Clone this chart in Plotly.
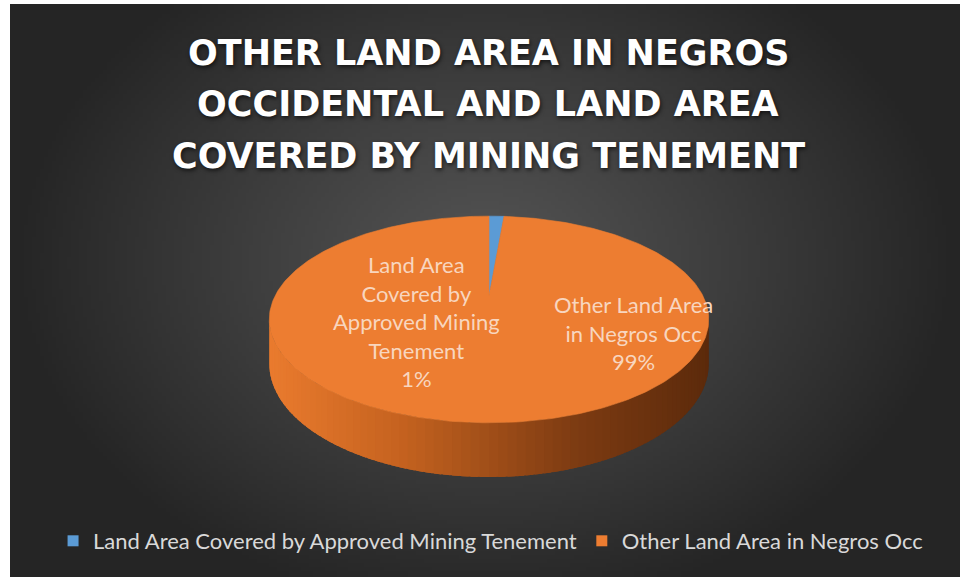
import base64
import struct
import zlib

import numpy as np
import plotly.graph_objects as go

# ---------------- data ----------------
categories = ["Land Area Covered by Approved Mining Tenement", "Other Land Area in Negros Occ"]
label_lines = ["Land Area<br>Covered by<br>Approved Mining<br>Tenement", "Other Land Area<br>in Negros Occ"]
values = [1.37, 98.63]
slice_colors = ["#5b9bd5", "#ed7d31"]
title_lines = ["OTHER LAND AREA IN NEGROS", "OCCIDENTAL AND LAND AREA", "COVERED BY MINING TENEMENT"]

# ---------------- canvas ----------------
W, H = 960, 577
BG_LEFT, BG_TOP = 10, 4


def png_uri(arr):
    h, w, _ = arr.shape
    raw = b"".join(b"\x00" + arr[r].tobytes() for r in range(h))

    def chunk(tag, data):
        c = struct.pack(">I", len(data)) + tag + data
        return c + struct.pack(">I", zlib.crc32(tag + data) & 0xFFFFFFFF)

    png = b"\x89PNG\r\n\x1a\n" + chunk(b"IHDR", struct.pack(">IIBBBBB", w, h, 8, 2, 0, 0, 0))
    png += chunk(b"IDAT", zlib.compress(raw, 9)) + chunk(b"IEND", b"")
    return "data:image/png;base64," + base64.b64encode(png).decode()


# radial gradient background
gw, gh = 240, 144
yy, xx = np.mgrid[0:gh, 0:gw]
dx = (xx / (gw - 1) - 0.5) / 0.5
dy = (yy / (gh - 1) - 0.45) / 0.62
d = np.clip(np.sqrt(dx ** 2 + dy ** 2), 0, 1) ** 1.1
c_in = np.array([0x54, 0x54, 0x54], float)
c_out = np.array([0x25, 0x25, 0x25], float)
bg = (c_in[None, None, :] * (1 - d[..., None]) + c_out[None, None, :] * d[..., None]).astype(np.uint8)
bg_uri = png_uri(bg)

# ---------------- pie geometry (perspective disc) ----------------
CX, CY = 489, 296
R, S, A = 214, 98, 0.227
DEPTH = 42


def proj(phi):
    u, v = np.cos(phi), np.sin(phi)
    w = 1 + A * v
    return CX + R * u / w, CY - S * v / w, w


def hex2rgb(h):
    h = h.lstrip("#")
    return np.array([int(h[i:i + 2], 16) for i in (0, 2, 4)], float)


side_stops = [(0.0, "#ea7b2e"), (0.3, "#c5621f"), (0.7, "#7c3b12"), (1.0, "#5c2a0b")]


def side_color(t):
    for (t0, c0), (t1, c1) in zip(side_stops[:-1], side_stops[1:]):
        if t <= t1:
            f = (t - t0) / (t1 - t0)
            c = hex2rgb(c0) * (1 - f) + hex2rgb(c1) * f
            return "rgb(%d,%d,%d)" % tuple(c.round())
    return side_stops[-1][1]


fig = go.Figure()

# side wall (front half of the disc), strips overlap to avoid seams
phi_a = np.pi + np.arcsin(A)
phi_b = 2 * np.pi - np.arcsin(A)
N = 80
edges = np.linspace(phi_a, phi_b, N + 1)
step = edges[1] - edges[0]
xmin = CX - R / np.sqrt(1 - A * A)
xmax = CX + R / np.sqrt(1 - A * A)
for i in range(N):
    hi = min(edges[i + 1] + 0.8 * step, phi_b)
    ph = np.linspace(edges[i], hi, 4)
    x, y, w = proj(ph)
    yb = y + DEPTH / w
    px = np.concatenate([x, x[::-1]])
    py = np.concatenate([y, yb[::-1]])
    t = float((proj(edges[i] + step / 2)[0] - xmin) / (xmax - xmin))
    col = side_color(min(max(t, 0), 1))
    fig.add_trace(go.Scatter(x=px, y=py, mode="lines", fill="toself", fillcolor=col,
                             line=dict(width=0), hoverinfo="skip", showlegend=False))

# top face slices (start at 12 o'clock, clockwise)
total = sum(values)
cur = np.pi / 2
label_pos = [(CX - 73, CY + 25), (CX + 144, CY + 37)]
for i, (cat, val) in enumerate(zip(categories, values)):
    span = 2 * np.pi * val / total
    n = max(4, int(np.degrees(span)))
    ph = np.linspace(cur, cur - span, n)
    x, y, w = proj(ph)
    px = np.concatenate([[CX], x, [CX]])
    py = np.concatenate([[CY], y, [CY]])
    fig.add_trace(go.Scatter(x=px, y=py, mode="lines", fill="toself", fillcolor=slice_colors[i],
                             line=dict(color=slice_colors[i], width=0.6), hoverinfo="skip",
                             showlegend=False))
    cur -= span
    pct = 100 * val / total
    fig.add_annotation(x=label_pos[i][0], y=label_pos[i][1], xref="x", yref="y",
                       text=f"{label_lines[i]}<br>{pct:.0f}%", showarrow=False,
                       font=dict(family="Lato", size=22, color="#f8d6bf"), align="center")

# legend entries
for cat, col in zip(categories, slice_colors):
    fig.add_trace(go.Scatter(x=[None], y=[None], mode="markers", name=cat,
                             marker=dict(symbol="square", size=11, color=col)))

# title
title_y = [53, 104, 156]
for line, ty in zip(title_lines, title_y):
    fig.add_annotation(x=488, y=ty, xref="x", yref="y", text=f"<b>{line}</b>", showarrow=False,
                       font=dict(family="DejaVu Sans", size=35, color="#ffffff",
                                 shadow="1px 2px 4px rgba(0,0,0,0.65)"))

fig.add_layout_image(dict(source=bg_uri, xref="paper", yref="paper",
                          x=BG_LEFT / W, y=1 - BG_TOP / H, sizex=(W - BG_LEFT) / W,
                          sizey=(H - BG_TOP) / H, xanchor="left", yanchor="top",
                          sizing="stretch", layer="below"))

fig.update_layout(
    width=W, height=H, margin=dict(l=0, r=0, t=0, b=0),
    paper_bgcolor="#ffffff", plot_bgcolor="rgba(0,0,0,0)",
    xaxis=dict(range=[0, W], visible=False, fixedrange=True),
    yaxis=dict(range=[H, 0], visible=False, fixedrange=True),
    showlegend=True,
    legend=dict(orientation="h", x=0.511, xanchor="center", y=1 - 541 / H, yanchor="middle",
                font=dict(family="Lato", size=22, color="#d9d9d9"), bgcolor="rgba(0,0,0,0)",
                itemwidth=30),
    hovermode=False,
)

fig.write_html("out.html", config={"displayModeBar": False},
               post_script="document.body.style.margin='0';document.body.style.overflow='hidden';")
